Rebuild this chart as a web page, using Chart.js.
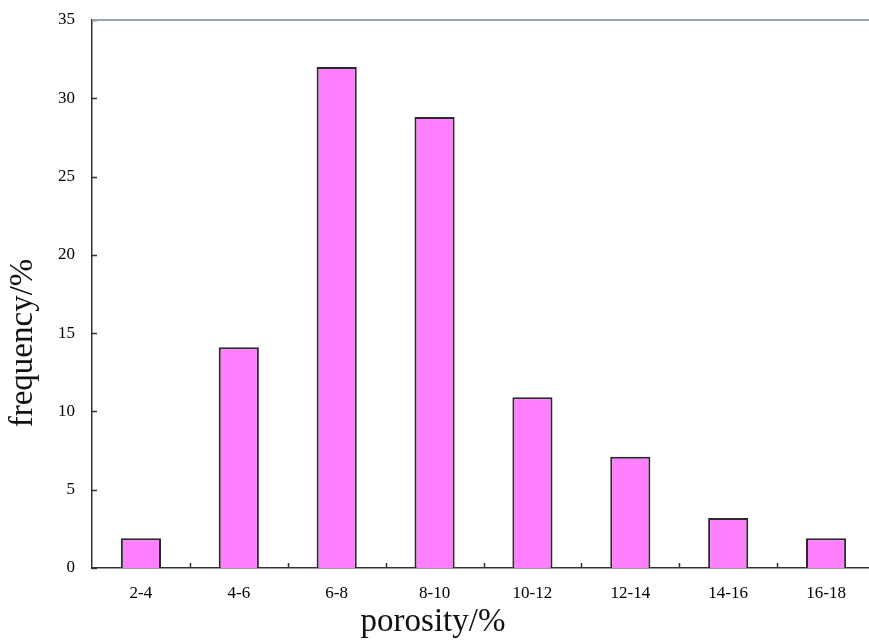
<!DOCTYPE html>
<html lang="en">
<head>
    <meta charset="UTF-8">
    <title>Porosity frequency</title>
    <style>
        html, body { margin: 0; padding: 0; background: #fff; overflow: hidden; }
        canvas { display: block; }
    </style>
</head>
<body>
<canvas id="chart" width="875" height="641"></canvas>

<script src="https://cdn.jsdelivr.net/npm/chart.js@4.4.0/dist/chart.umd.min.js"></script>
<script>
    // data
    const categories = ['2-4', '4-6', '6-8', '8-10', '10-12', '12-14', '14-16', '16-18'];
    const frequency = [1.9, 14.1, 32.0, 28.8, 10.9, 7.1, 3.2, 1.9];
    const yTicks = [0, 5, 10, 15, 20, 25, 30, 35];
    const xTitle = 'porosity/%';
    const yTitle = 'frequency/%';

    const serif = '"Liberation Serif", "Times New Roman", serif';
    const axisColor = '#333';

    // inward tick marks, top frame line and axis titles
    const decorations = {
        id: 'decorations',
        afterDraw(chart) {
            const c = chart.ctx;
            const area = chart.chartArea;
            const x = chart.scales.x, y = chart.scales.y;
            c.save();
            c.strokeStyle = axisColor;
            c.lineWidth = 1.5;
            c.beginPath();
            yTicks.forEach(v => {
                const py = Math.round(y.getPixelForValue(v)) + 0.5;
                c.moveTo(area.left, py);
                c.lineTo(area.left + 5, py);
            });
            for (let i = 1; i < categories.length; i++) {
                const px = Math.round((x.getPixelForValue(i - 1) + x.getPixelForValue(i)) / 2) + 0.5;
                c.moveTo(px, area.bottom);
                c.lineTo(px, area.bottom - 5);
            }
            c.stroke();

            c.strokeStyle = '#97a6ae';
            c.lineWidth = 2;
            c.beginPath();
            c.moveTo(area.left, area.top);
            c.lineTo(chart.width, area.top);
            c.stroke();

            c.fillStyle = '#111';
            c.font = '33px ' + serif;
            c.textAlign = 'center';
            c.textBaseline = 'middle';
            c.fillText(xTitle, 433, 622);
            c.translate(23, 343);
            c.rotate(-Math.PI / 2);
            c.fillText(yTitle, 0, 0);
            c.restore();
        }
    };

    new Chart(document.getElementById('chart'), {
        type: 'bar',
        data: {
            labels: categories,
            datasets: [{
                data: frequency,
                backgroundColor: '#ff80ff',
                borderColor: '#2a2a2a',
                borderWidth: 2,
                barPercentage: 0.41,
                categoryPercentage: 1
            }]
        },
        options: {
            responsive: false,
            animation: false,
            layout: { padding: { top: 20, right: 0, left: 0, bottom: 0 } },
            plugins: { legend: { display: false }, tooltip: { enabled: false } },
            scales: {
                x: {
                    grid: { display: false },
                    border: { display: true, color: axisColor, width: 1.5 },
                    ticks: { color: '#000', font: { family: serif, size: 17 }, padding: 7, maxRotation: 0, autoSkip: false },
                    afterFit(s) { s.height = 73; }
                },
                y: {
                    min: 0,
                    max: 35,
                    grid: { display: false },
                    border: { display: true, color: axisColor, width: 1.5 },
                    ticks: {
                        stepSize: 5,
                        autoSkip: false,
                        color: '#000',
                        font: { family: serif, size: 17 },
                        padding: 9
                    },
                    afterFit(s) { s.width = 92; }
                }
            }
        },
        plugins: [decorations]
    });
</script>
</body>
</html>
